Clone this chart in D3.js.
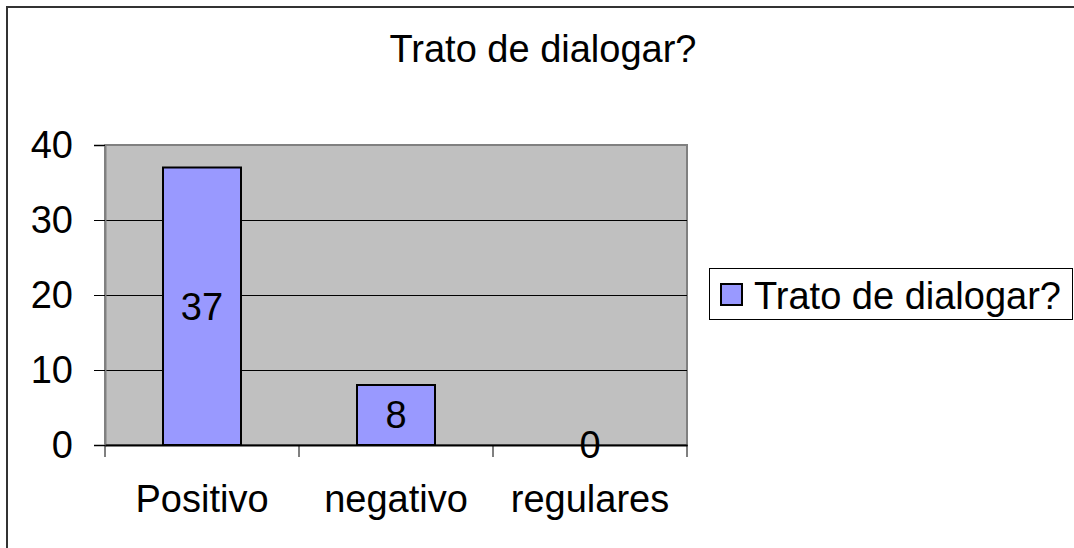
<!DOCTYPE html>
<html><head><meta charset="utf-8">
<script src="https://cdn.jsdelivr.net/npm/d3@7"></script>
<style>body{margin:0;background:#fff}svg{display:block}</style>
</head><body>
<script>
const categories = ["Positivo", "negativo", "regulares"];
const values = [37, 8, 0];
const seriesName = "Trato de dialogar?";
const yTicks = [0, 10, 20, 30, 40];
const title = "Trato de dialogar?";

const W = 1074, H = 548;
const svg = d3.select("body").append("svg").attr("width", W).attr("height", H);
const font = "'Liberation Sans', Arial, sans-serif";
const fs = 38;

// outer border
svg.append("rect").attr("x", 7).attr("y", 7).attr("width", W).attr("height", H)
  .attr("fill", "#fff").attr("stroke", "#333").attr("stroke-width", 2);

const m = {left: 105, top: 145, right: 687, bottom: 445};
const x = d3.scaleBand().domain(categories).range([m.left, m.right]).paddingInner(0).paddingOuter(0);
const y = d3.scaleLinear().domain([0, 40]).range([m.bottom, m.top]);

// plot background
svg.append("rect").attr("x", m.left).attr("y", m.top).attr("width", m.right - m.left).attr("height", m.bottom - m.top)
  .attr("fill", "#C0C0C0").attr("stroke", "#808080").attr("stroke-width", 2);

// gridlines
svg.append("g").selectAll("line").data(yTicks.filter(d => d > 0 && d < 40)).join("line")
  .attr("x1", m.left).attr("x2", m.right).attr("y1", d => y(d)).attr("y2", d => y(d))
  .attr("stroke", "#000").attr("stroke-width", 1).attr("shape-rendering", "crispEdges");

// y axis
const ya = d3.axisLeft(y).tickValues(yTicks).tickSize(11).tickPadding(21).tickFormat(d3.format("d"));
const yg = svg.append("g").attr("transform", `translate(${m.left},0)`).call(ya);
yg.select(".domain").attr("stroke", "#808080").attr("stroke-width", 2);
yg.selectAll(".tick line").attr("stroke", "#000");
yg.selectAll("text").attr("font-family", font).attr("font-size", fs).attr("fill", "#000");

// x axis
const xa = d3.axisBottom(x).tickSize(0).tickPadding(40);
const xg = svg.append("g").attr("transform", `translate(0,${m.bottom})`).call(xa);
xg.select(".domain").attr("stroke", "#000").attr("stroke-width", 2);
xg.selectAll("text").attr("font-family", font).attr("font-size", fs).attr("fill", "#000");
// category separators
xg.selectAll("line.sep").data([0, 1, 2, 3]).join("line").attr("class", "sep")
  .attr("x1", i => m.left + i * x.bandwidth()).attr("x2", i => m.left + i * x.bandwidth())
  .attr("y1", 0).attr("y2", 12).attr("stroke", "#000").attr("stroke-width", 1);

// bars
const bw = 78;
const data = categories.map((c, i) => ({c, v: values[i]}));
svg.append("g").selectAll("rect").data(data.filter(d => d.v > 0)).join("rect")
  .attr("x", d => x(d.c) + x.bandwidth() / 2 - bw / 2).attr("width", bw)
  .attr("y", d => y(d.v)).attr("height", d => y(0) - y(d.v))
  .attr("fill", "#9999FF").attr("stroke", "#000").attr("stroke-width", 2);

// labels
svg.append("g").selectAll("text").data(data).join("text")
  .attr("x", d => x(d.c) + x.bandwidth() / 2)
  .attr("y", d => (y(d.v) + y(0)) / 2)
  .attr("dy", "0.35em").attr("text-anchor", "middle")
  .attr("font-family", font).attr("font-size", fs).attr("fill", "#000")
  .text(d => d.v);

// title
svg.append("text").attr("x", 543).attr("y", 62).attr("text-anchor", "middle")
  .attr("font-family", font).attr("font-size", fs).attr("fill", "#000").text(title);

// legend
const lg = svg.append("g");
lg.append("rect").attr("x", 709.5).attr("y", 268.5).attr("width", 363).attr("height", 51)
  .attr("fill", "#fff").attr("stroke", "#000").attr("stroke-width", 1);
lg.append("rect").attr("x", 721).attr("y", 284).attr("width", 21).attr("height", 21)
  .attr("fill", "#9999FF").attr("stroke", "#000").attr("stroke-width", 2);
lg.append("text").attr("x", 754).attr("y", 309).attr("font-family", font).attr("font-size", fs)
  .attr("fill", "#000").text(seriesName);
</script>
</body></html>
